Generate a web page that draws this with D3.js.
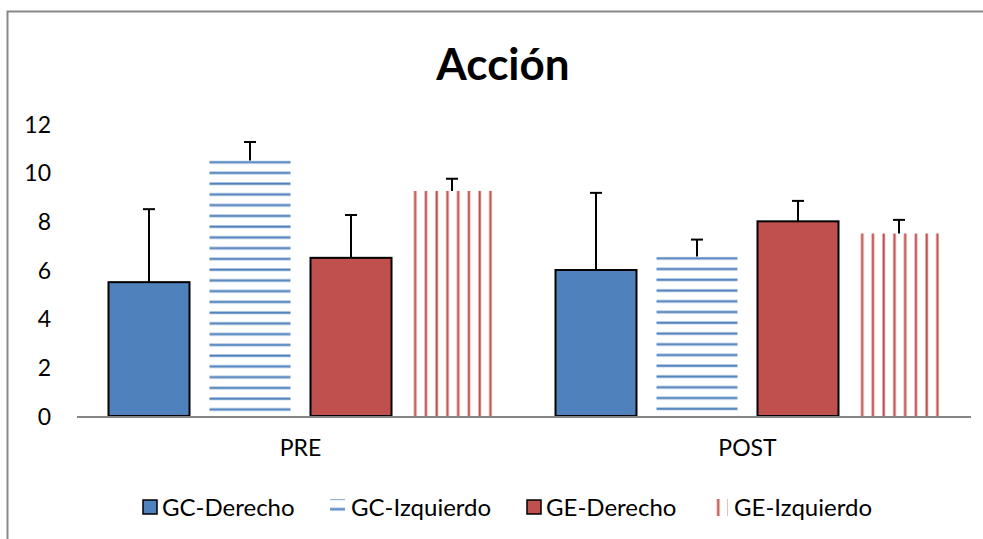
<!DOCTYPE html>
<html>
<head>
<meta charset="utf-8">
<script src="https://cdn.jsdelivr.net/npm/d3@7"></script>
<style>
  body { margin: 0; background: #fff; }
  svg text { font-family: Lato, "Noto Sans", sans-serif; fill: #000; }
</style>
</head>
<body>
<script>
'use strict';

// chart data
const categories = ["PRE", "POST"];
const seriesNames = ["GC-Derecho", "GC-Izquierdo", "GE-Derecho", "GE-Izquierdo"];
const gcDerecho = [5.5, 6.0];
const gcIzquierdo = [10.5, 6.55];
const geDerecho = [6.5, 8.0];
const geIzquierdo = [9.25, 7.5];
const errGcDerecho = [3.0, 3.17];
const errGcIzquierdo = [0.76, 0.7];
const errGeDerecho = [1.76, 0.84];
const errGeIzquierdo = [0.5, 0.56];
const yTicks = [0, 2, 4, 6, 8, 10, 12];

const width = 983, height = 539;

// style per series: solid fill, horizontal lines, vertical lines
const seriesStyle = [
  { kind: "solid", color: "#4f81bd" },
  { kind: "hlines", color: "#4f81bd" },
  { kind: "solid", color: "#c0504d" },
  { kind: "vlines", color: "#c0504d" }
];

const values = [gcDerecho, gcIzquierdo, geDerecho, geIzquierdo];
const errors = [errGcDerecho, errGcIzquierdo, errGeDerecho, errGeIzquierdo];

// flatten into rows
let rows = [];
categories.forEach((cat, ci) => {
  seriesNames.forEach((s, si) => {
    rows.push({ cat: cat, series: s, si: si, value: values[si][ci], err: errors[si][ci] });
  });
});

const svg = d3.select('body').append('svg')
  .attr('width', width)
  .attr('height', height);

const defs = svg.append('defs');

// outer chart frame (only left and top edges visible in the picture)
svg.append('path')
  .attr('d', `M7.5,${height} V11.5 H${width}`)
  .attr('fill', 'none')
  .attr('stroke', '#888')
  .attr('stroke-width', 2);

// title
svg.append('text')
  .attr('x', 503)
  .attr('y', 80)
  .attr('text-anchor', 'middle')
  .style('font-size', '44px')
  .style('font-weight', 'bold')
  .text('Acción');

// scales
let x0 = d3.scaleBand()
  .domain(categories)
  .range([77, 971])
  .paddingInner(0)
  .paddingOuter(0);

let x1 = d3.scaleBand()
  .domain(seriesNames)
  .range([31.5, 415.5])
  .paddingInner(20 / 101)
  .paddingOuter(0);

let y = d3.scaleLinear()
  .domain([0, 12])
  .range([416, 124]);

// y tick labels (no axis line)
let yAxis = d3.axisLeft(y).tickValues(yTicks).tickSize(0).tickPadding(0);
let yg = svg.append('g')
  .attr('transform', 'translate(51,0)')
  .call(yAxis);
yg.select('.domain').remove();
yg.selectAll('text')
  .style('font-size', '23px')
  .attr('dy', '0.36em');

// build a stripe pattern anchored at a given origin
function makePattern(id, kind, color, ox, oy) {
  let p = defs.append('pattern')
    .attr('id', id)
    .attr('patternUnits', 'userSpaceOnUse')
    .attr('x', ox)
    .attr('y', oy);
  const step = 10.75;
  if (kind === "hlines") {
    p.attr('width', 20).attr('height', step);
    p.append('rect').attr('x', 0).attr('y', 0.2).attr('width', 20).attr('height', 3)
      .attr('fill', color).attr('opacity', 0.55);
    p.append('rect').attr('x', 0).attr('y', 0.9).attr('width', 20).attr('height', 1.6)
      .attr('fill', color);
  } else {
    p.attr('width', step).attr('height', 20);
    p.append('rect').attr('x', 0.2).attr('y', 0).attr('width', 3).attr('height', 20)
      .attr('fill', color).attr('opacity', 0.55);
    p.append('rect').attr('x', 0.9).attr('y', 0).attr('width', 1.6).attr('height', 20)
      .attr('fill', color);
  }
  return 'url(#' + id + ')';
}

let bw = x1.bandwidth();
let barX = (d) => x0(d.cat) + x1(d.series);

// bar fills
rows.forEach((d, i) => {
  let st = seriesStyle[d.si];
  let fill = st.color;
  if (st.kind === "hlines") fill = makePattern('pat' + i, 'hlines', st.color, 0, y(d.value));
  if (st.kind === "vlines") fill = makePattern('pat' + i, 'vlines', st.color, barX(d) + 2, 0);
  d.fill = fill;
});

// bars
svg.selectAll('.bar')
  .data(rows)
  .enter()
  .append('rect')
    .attr('class', 'bar')
    .attr('x', barX)
    .attr('y', (d) => y(d.value))
    .attr('width', bw)
    .attr('height', (d) => y(0) - y(d.value))
    .attr('fill', (d) => d.fill)
    .attr('stroke', (d) => seriesStyle[d.si].kind === "solid" ? '#000' : 'none')
    .attr('stroke-width', 2);

// error bars (upper only)
let eb = svg.selectAll('.err')
  .data(rows)
  .enter()
  .append('g')
    .attr('class', 'err');
eb.append('line')
  .attr('x1', (d) => barX(d) + bw / 2)
  .attr('x2', (d) => barX(d) + bw / 2)
  .attr('y1', (d) => y(d.value))
  .attr('y2', (d) => y(d.value + d.err))
  .attr('stroke', '#000')
  .attr('stroke-width', 2);
eb.append('line')
  .attr('x1', (d) => barX(d) + bw / 2 - 6)
  .attr('x2', (d) => barX(d) + bw / 2 + 6)
  .attr('y1', (d) => y(d.value + d.err))
  .attr('y2', (d) => y(d.value + d.err))
  .attr('stroke', '#000')
  .attr('stroke-width', 2);

// baseline
svg.append('line')
  .attr('x1', 77)
  .attr('x2', 971)
  .attr('y1', y(0) + 1)
  .attr('y2', y(0) + 1)
  .attr('stroke', '#868686')
  .attr('stroke-width', 2);

// category labels
let xAxis = d3.axisBottom(x0).tickSize(0).tickPadding(0);
let xg = svg.append('g')
  .attr('transform', 'translate(0,440)')
  .call(xAxis);
xg.select('.domain').remove();
xg.selectAll('text')
  .style('font-size', '23px');

// legend
const legendX = [143, 330, 527, 713];
let lg = svg.selectAll('.legend')
  .data(seriesNames)
  .enter()
  .append('g')
    .attr('class', 'legend')
    .attr('transform', (d, i) => `translate(${legendX[i]},500)`);

lg.each(function(d, i) {
  let g = d3.select(this);
  let st = seriesStyle[i];
  let fill = st.color;
  if (st.kind === "hlines") fill = makePattern('lpat' + i, 'hlines', st.color, 0, 502);
  if (st.kind === "vlines") fill = makePattern('lpat' + i, 'vlines', st.color, legendX[i], 0);
  let solid = st.kind === "solid";
  g.append('rect')
    .attr('x', 0)
    .attr('y', solid ? 0 : -1)
    .attr('width', solid ? 14 : 15)
    .attr('height', solid ? 14 : 17)
    .attr('fill', fill)
    .attr('stroke', solid ? '#000' : 'none')
    .attr('stroke-width', 1.5);
  g.append('text')
    .attr('x', solid ? 19 : 21)
    .attr('y', 7)
    .attr('dy', '0.36em')
    .style('font-size', '24px')
    .text(d);
});
</script>
</body>
</html>
